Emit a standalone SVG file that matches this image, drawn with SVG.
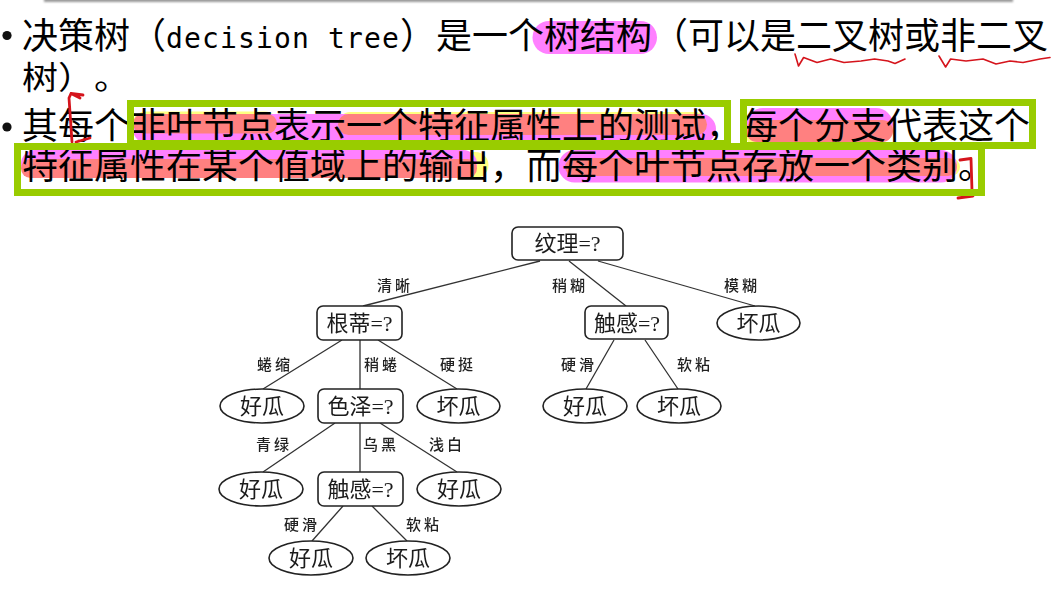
<svg xmlns="http://www.w3.org/2000/svg" width="1053" height="593" viewBox="0 0 1053 593">
<defs>
<filter id="soft" x="-5%" y="-5%" width="110%" height="110%"><feGaussianBlur stdDeviation="0.45"/></filter>
<filter id="shadow" x="-5%" y="-200%" width="110%" height="500%"><feGaussianBlur stdDeviation="1"/></filter>
</defs>
<style>
.t{font-family:"Noto Sans CJK SC","DejaVu Sans",sans-serif;font-size:36px;fill:#000;text-spacing-trim:space-all}
.m{font-family:"DejaVu Sans Mono",monospace;font-size:28px;letter-spacing:1.14px;fill:#000}
.box{fill:none;stroke:#99cc00;stroke-width:7}
.y{fill:#ffff80}.p{fill:#ff80ff}.s{fill:#ff8080}
.red{fill:none;stroke:#d5141c;stroke-width:1.6;stroke-linejoin:round;stroke-linecap:round}
.br{stroke-width:2.8}
.n{fill:#fff;stroke:#222;stroke-width:1.6}
.l{stroke:#333;stroke-width:1.3;fill:none}
.nt{font-family:"Liberation Serif","Noto Sans CJK SC",serif;font-size:22px;fill:#1a1a1a;text-anchor:middle}
.lb{font-family:"Noto Sans CJK SC",sans-serif;font-size:15px;font-weight:500;letter-spacing:3px;fill:#222;text-anchor:middle}
</style>
<rect width="1053" height="593" fill="#fff"/>
<rect x="44" y="-3" width="969" height="5" fill="#999" filter="url(#shadow)"/>

<g id="highlights">
<rect x="532.500" y="21" width="124.500" height="33" rx="16.500" class="p"/>
<rect x="133" y="111.500" width="144" height="24" rx="12" class="y"/>
<rect x="338" y="112" width="369" height="24" rx="12" class="y"/>
<rect x="133" y="114" width="583" height="30" rx="15" class="p"/>
<rect x="133" y="114" width="144" height="19.500" rx="9.700" class="s"/>
<rect x="338" y="114" width="369" height="21" rx="10.500" class="s"/>
<rect x="746" y="118" width="60" height="25" rx="6" class="y"/>
<rect x="746" y="108" width="147" height="34" rx="17" class="p"/>
<rect x="746" y="120" width="147" height="22" rx="11" class="s"/>
<rect x="21" y="152" width="467.500" height="26" rx="13" class="y"/>
<rect x="21" y="150" width="456" height="28" rx="14" class="p"/>
<rect x="21" y="159" width="456" height="19" rx="9.500" class="s"/>
<rect x="905" y="158" width="55" height="18" rx="9" class="y"/>
<rect x="558.500" y="150" width="398.500" height="32.500" rx="16" class="p"/>
<rect x="565" y="158" width="392" height="18" rx="9" class="s"/>
</g>

<g id="text">
<circle cx="7" cy="35.500" r="4.600" fill="#111"/>
<circle cx="7" cy="127" r="4.600" fill="#111"/>
<text class="t" x="22" y="49">决策树（</text>
<text class="m" x="166" y="48">decision tree</text>
<text class="t" x="400" y="49">）是一个树结构（可以是二叉树或非二叉</text>
<text class="t" transform="translate(22,89) scale(1,.88)">树）。</text>
<text class="t" x="22" y="139">其每个非叶节点表示一个特征属性上的测试，每个分支代表这个</text>
<text class="t" x="22" y="179">特征属性在某个值域上的输出，而每个叶节点存放一个类别。</text>
</g>

<g id="annotations">
<path class="red br" d="M83 95 L71 93.500 L69 98 L72 142 M71 93.500 L80 98 M76 142 L90 138"/>
<path class="red br" d="M960 160 L971 158.500 L972 191 M973 196 L958 198"/>
<path class="red" d="M795 54 L798.500 66 L803.600 57.500 L817 62.500 L830.600 59 L844 62.500 L861 61 L874.600 59 L888 61 L895 63.500 L905 59"/>
<path class="red" d="M939 56 L945.600 67 L950.600 59 L966 61 L983 59 L996 64 L1010 61 L1023 62.500 L1040 59 L1050 57.500"/>
</g>

<rect class="box" x="130.500" y="103.500" width="597" height="40"/>
<rect class="box" x="743.500" y="102.500" width="289" height="43"/>
<rect class="box" x="17.500" y="146.500" width="964" height="46"/>

<g id="tree" filter="url(#soft)">
<g id="connectors">
<path class="l" d="M540 261L363 306M569 261L626 306M598 261L755 306M342 340L263 389M360 340V389M378 340L457 389M335 423L263 472M360 423V472M380 423L457 472M343 506L312 541M372 506L407 541M614 340L586 389M645 340L678 389"/>
</g>
<g id="edge-labels">
<text class="lb" x="395" y="291">清晰</text>
<text class="lb" x="570" y="291">稍糊</text>
<text class="lb" x="742" y="291">模糊</text>
<text class="lb" x="275" y="370">蜷缩</text>
<text class="lb" x="382" y="370">稍蜷</text>
<text class="lb" x="458" y="370">硬挺</text>
<text class="lb" x="579" y="370">硬滑</text>
<text class="lb" x="695" y="370">软粘</text>
<text class="lb" x="274" y="450">青绿</text>
<text class="lb" x="381" y="450">乌黑</text>
<text class="lb" x="447" y="450">浅白</text>
<text class="lb" x="302" y="530">硬滑</text>
<text class="lb" x="424" y="530">软粘</text>
</g>
<g id="n1"><rect class="n" x="512" y="227" width="111" height="33" rx="6"/><text class="nt" x="567.500" y="251">纹理=?</text></g>
<g id="n2"><rect class="n" x="317" y="306" width="85" height="34" rx="6"/><text class="nt" x="359.500" y="331">根蒂=?</text></g>
<g id="n3"><rect class="n" x="585" y="306" width="83" height="33" rx="6"/><text class="nt" x="627" y="331">触感=?</text></g>
<g id="n4"><ellipse class="n" cx="758.500" cy="323" rx="41.500" ry="17"/><text class="nt" x="758.500" y="331">坏瓜</text></g>
<g id="n5"><ellipse class="n" cx="262" cy="406" rx="42" ry="17"/><text class="nt" x="262" y="414">好瓜</text></g>
<g id="n6"><rect class="n" x="318" y="389" width="85" height="34" rx="6"/><text class="nt" x="360.500" y="414">色泽=?</text></g>
<g id="n7"><ellipse class="n" cx="458.500" cy="406" rx="41.500" ry="17"/><text class="nt" x="458.500" y="414">坏瓜</text></g>
<g id="n8"><ellipse class="n" cx="585" cy="406" rx="42" ry="17"/><text class="nt" x="585" y="414">好瓜</text></g>
<g id="n9"><ellipse class="n" cx="679" cy="406" rx="42" ry="17"/><text class="nt" x="679" y="414">坏瓜</text></g>
<g id="n10"><ellipse class="n" cx="261" cy="489" rx="42" ry="17"/><text class="nt" x="261" y="497">好瓜</text></g>
<g id="n11"><rect class="n" x="318" y="472" width="85" height="34" rx="6"/><text class="nt" x="360.500" y="497">触感=?</text></g>
<g id="n12"><ellipse class="n" cx="459" cy="489" rx="42" ry="17"/><text class="nt" x="459" y="497">好瓜</text></g>
<g id="n13"><ellipse class="n" cx="311" cy="558" rx="42" ry="17"/><text class="nt" x="311" y="566">好瓜</text></g>
<g id="n14"><ellipse class="n" cx="408" cy="558" rx="42" ry="17"/><text class="nt" x="408" y="566">坏瓜</text></g>
</g>
</svg>
